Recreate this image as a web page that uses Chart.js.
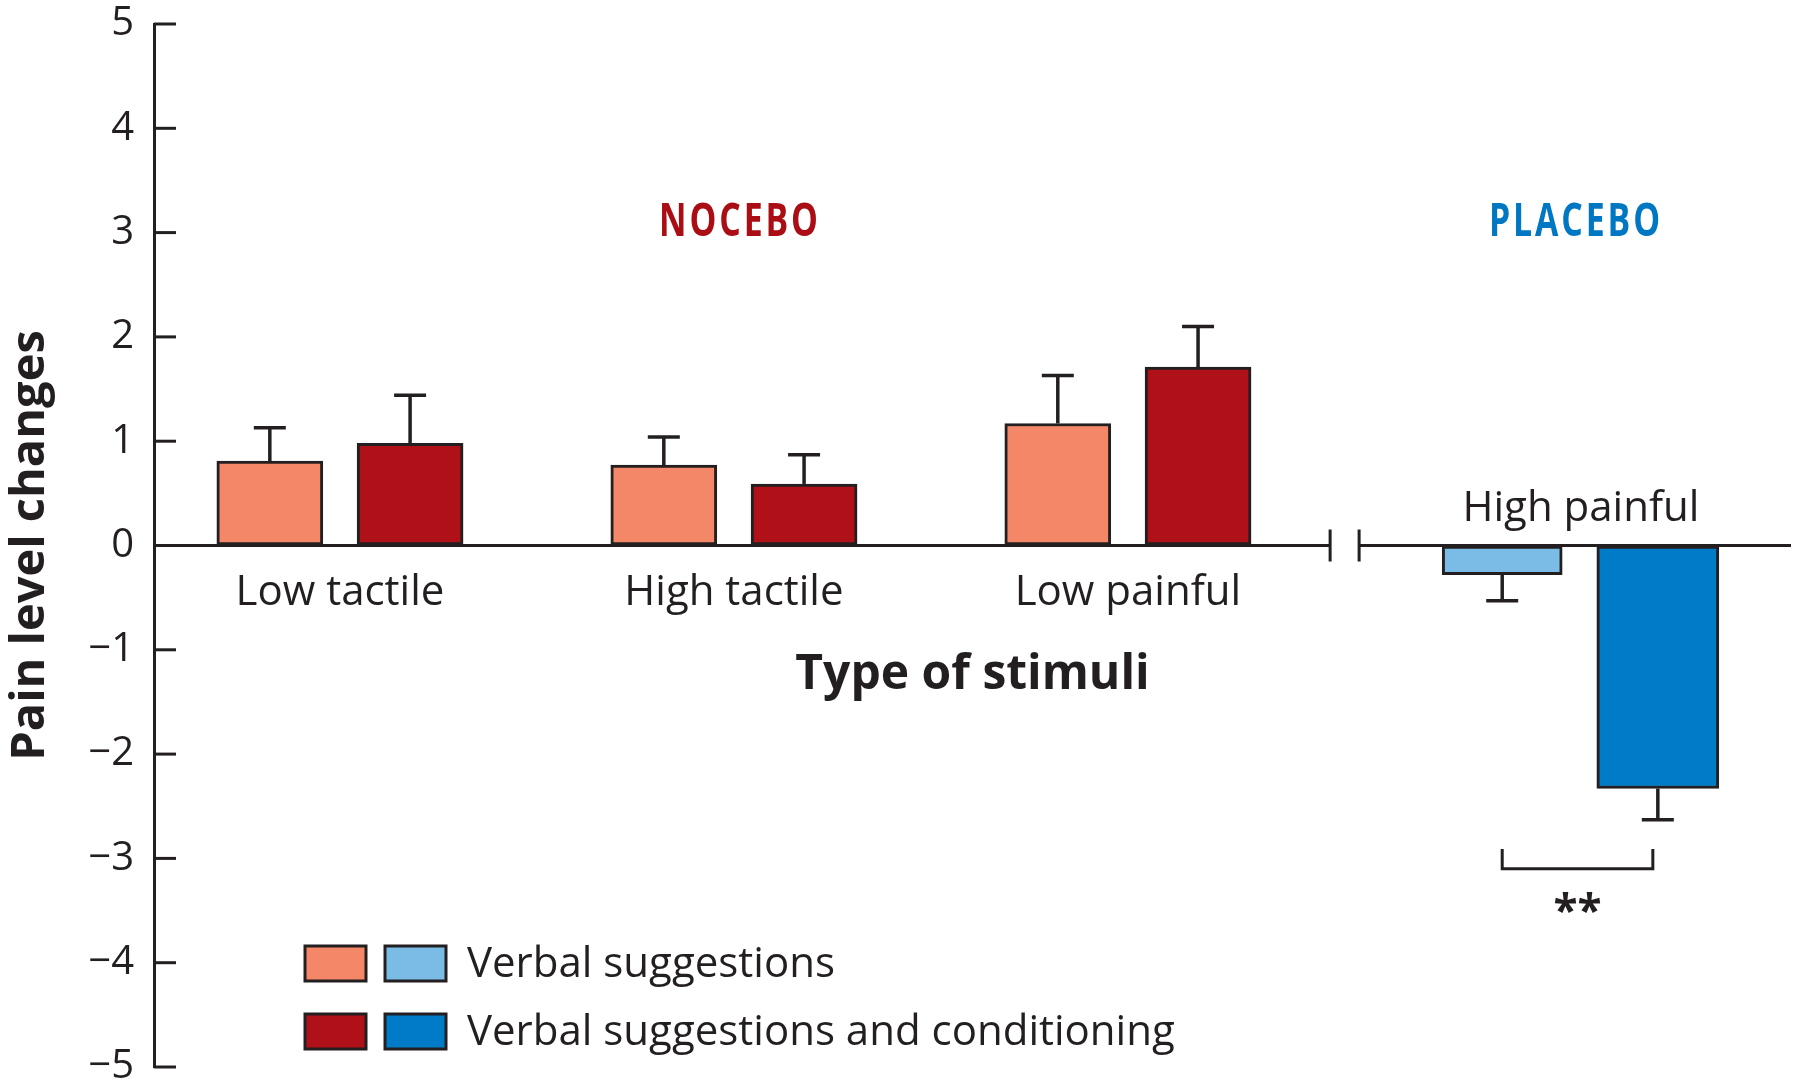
<!DOCTYPE html>
<html>
<head>
<meta charset="utf-8">
<script src="https://cdn.jsdelivr.net/npm/chart.js@4.4.1/dist/chart.umd.min.js"></script>
<style>
html, body { margin: 0; padding: 0; background: #fff; }
#wrap { width: 1800px; height: 1090px; position: relative; }
</style>
</head>
<body>
<div id="wrap"><canvas id="myChart"></canvas></div>
<script>
// data
var categories = ['Low tactile', 'High tactile', 'Low painful', 'High painful'];
var verbal = [0.81, 0.77, 1.17, -0.28];
var verbalErr = [0.32, 0.27, 0.46, 0.25];
var conditioning = [0.98, 0.59, 1.71, -2.33];
var conditioningErr = [0.46, 0.28, 0.39, 0.30];
var yTicks = [-5, -4, -3, -2, -1, 0, 1, 2, 3, 4, 5];
var legendLabels = ['Verbal suggestions', 'Verbal suggestions and conditioning'];
var groupTitles = ['NOCEBO', 'PLACEBO'];
var placeboIndex = 3;

var ink = '#231f20';
var colors = {
  nocLight: '#f58769', nocDark: '#b01018',
  plaLight: '#7abce6', plaDark: '#007bc7',
  nocText: '#aa0d14', plaText: '#0077c2'
};
var fontFam = '"Open Sans", "Noto Sans", sans-serif';

// x layout: one unit per category, extra gap before the placebo group
var groupX = categories.map(function (c, i) { return i + (i >= placeboIndex ? 0.15 : 0); });
var breakAt = 2.55;

function barData(values, shift, placebo) {
  var out = [];
  values.forEach(function (v, i) {
    if ((i >= placeboIndex) === placebo) out.push({ x: groupX[i] + shift, y: v, i: i });
  });
  return out;
}

function line(ctx, x1, y1, x2, y2) {
  ctx.beginPath(); ctx.moveTo(x1, y1); ctx.lineTo(x2, y2); ctx.stroke();
}

// condensed caps title, squeezed horizontally around its centre
function narrowText(ctx, text, x, y, color) {
  ctx.save();
  ctx.translate(x, y);
  ctx.scale(0.72, 1);
  ctx.fillStyle = color;
  ctx.font = 'bold 47px ' + fontFam;
  ctx.letterSpacing = '4px';
  ctx.textAlign = 'center';
  ctx.fillText(text, 0, 0);
  ctx.restore();
}

var decorations = {
  id: 'decorations',
  afterDatasetsDraw: function (chart) {
    var ctx = chart.ctx, xs = chart.scales.x, ys = chart.scales.y, area = chart.chartArea;
    var zero = ys.getPixelForValue(0);
    ctx.save();
    ctx.strokeStyle = ink; ctx.fillStyle = ink; ctx.lineWidth = 3; ctx.lineCap = 'butt';

    // ticks pointing into the plot
    yTicks.forEach(function (v) {
      var py = ys.getPixelForValue(v);
      line(ctx, area.left, py, area.left + 22, py);
    });

    // zero line with axis break
    var bx = xs.getPixelForValue(breakAt);
    line(ctx, area.left, zero, bx - 14.5, zero);
    line(ctx, bx + 14.5, zero, area.right, zero);
    line(ctx, bx - 14.5, zero - 16, bx - 14.5, zero + 16);
    line(ctx, bx + 14.5, zero - 16, bx + 14.5, zero + 16);

    // one-sided error bars
    ctx.lineWidth = 3.5;
    chart.data.datasets.forEach(function (ds, d) {
      var meta = chart.getDatasetMeta(d);
      meta.data.forEach(function (el, j) {
        var raw = ds.data[j];
        var e = ds.errs[raw.i];
        var end = raw.y + (raw.y < 0 ? -e : e);
        var p0 = ys.getPixelForValue(raw.y), p1 = ys.getPixelForValue(end);
        line(ctx, el.x, p0, el.x, p1);
        line(ctx, el.x - 16, p1, el.x + 16, p1);
      });
    });
    ctx.lineWidth = 3;

    // significance bracket
    var m2 = chart.getDatasetMeta(2).data[0], m3 = chart.getDatasetMeta(3).data[0];
    var bTop = ys.getPixelForValue(-2.91), bBot = ys.getPixelForValue(-3.10);
    ctx.beginPath();
    ctx.moveTo(m2.x, bTop); ctx.lineTo(m2.x, bBot); ctx.lineTo(m3.x - 5, bBot); ctx.lineTo(m3.x - 5, bTop);
    ctx.stroke();
    ctx.textAlign = 'center'; ctx.textBaseline = 'alphabetic';
    ctx.font = 'bold 44px ' + fontFam;
    ctx.fillText('**', (m2.x + m3.x - 5) / 2, ys.getPixelForValue(-3.65));

    // category labels
    ctx.font = '42px ' + fontFam;
    categories.forEach(function (c, i) {
      var px = xs.getPixelForValue(groupX[i]);
      var py = i >= placeboIndex ? zero - 25 : zero + 59;
      ctx.fillText(c, px, py);
    });

    // axis titles
    ctx.font = 'bold 48px ' + fontFam;
    ctx.fillText('Type of stimuli', (area.left + area.right) / 2, zero + 143);
    ctx.save();
    ctx.translate(44, (area.top + area.bottom) / 2);
    ctx.rotate(-Math.PI / 2);
    ctx.font = 'bold 47px ' + fontFam;
    ctx.fillText('Pain level changes', 0, 0);
    ctx.restore();

    // group titles
    narrowText(ctx, groupTitles[0], xs.getPixelForValue(groupX[1]) + 6, ys.getPixelForValue(2.97), colors.nocText);
    narrowText(ctx, groupTitles[1], xs.getPixelForValue(groupX[3]) - 5, ys.getPixelForValue(2.97), colors.plaText);

    // legend
    var rows = [[colors.nocLight, colors.plaLight], [colors.nocDark, colors.plaDark]];
    ctx.textAlign = 'left';
    ctx.font = '42px ' + fontFam;
    rows.forEach(function (pair, r) {
      var top = 946 + r * 68;
      pair.forEach(function (col, k) {
        ctx.fillStyle = col;
        ctx.fillRect(305 + k * 80, top, 61, 35);
        ctx.strokeRect(305 + k * 80, top, 61, 35);
      });
      ctx.fillStyle = ink;
      ctx.fillText(legendLabels[r], 467, top + 31);
    });
    ctx.restore();
  }
};

var ctx = document.getElementById('myChart').getContext('2d');
var chart = new Chart(ctx, {
  type: 'bar',
  data: {
    datasets: [
      { label: legendLabels[0], data: barData(verbal, -0.178, false), errs: verbalErr,
        backgroundColor: colors.nocLight, barThickness: 106 },
      { label: legendLabels[1], data: barData(conditioning, 0.178, false), errs: conditioningErr,
        backgroundColor: colors.nocDark, barThickness: 106 },
      { label: legendLabels[0], data: barData(verbal, -0.2, true), errs: verbalErr,
        backgroundColor: colors.plaLight, barThickness: 120 },
      { label: legendLabels[1], data: barData(conditioning, 0.195, true), errs: conditioningErr,
        backgroundColor: colors.plaDark, barThickness: 122 }
    ]
  },
  options: {
    responsive: true,
    maintainAspectRatio: false,
    animation: false,
    layout: { padding: { top: 24, bottom: 23, right: 9, left: 0 } },
    datasets: { bar: { grouped: false, borderColor: ink, borderWidth: 3, borderSkipped: false } },
    scales: {
      x: { type: 'linear', display: false, offset: false, min: -0.472, max: 3.683 },
      y: {
        min: -5, max: 5,
        afterBuildTicks: function (s) { s.ticks = yTicks.map(function (v) { return { value: v }; }); },
        afterFit: function (s) { s.width = 154; },
        // outward ticks kept invisible (real ones are drawn inward), they only space the labels
        grid: { display: true, drawOnChartArea: false, drawTicks: true, tickLength: 8, color: 'rgba(0,0,0,0)' },
        border: { display: true, color: ink, width: 3 },
        ticks: {
          color: ink, padding: 12,
          font: { family: fontFam, size: 40, lineHeight: 0.5 },
          callback: function (v) { return v < 0 ? '\u2212' + Math.abs(v) : String(v); }
        }
      }
    },
    plugins: { legend: { display: false }, tooltip: { enabled: false } }
  },
  plugins: [decorations]
});
</script>
</body>
</html>
